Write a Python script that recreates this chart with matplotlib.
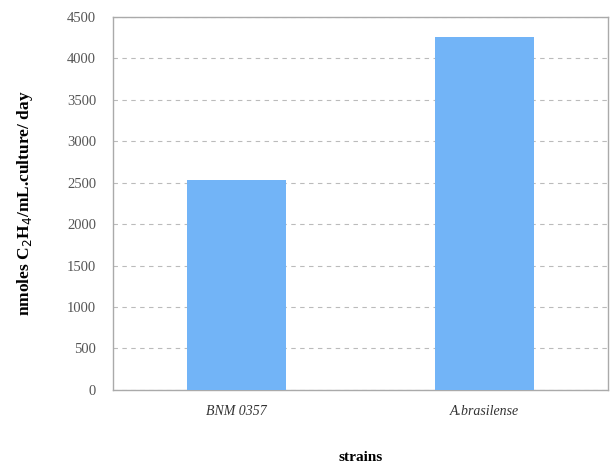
import numpy as np
import matplotlib
matplotlib.use("Agg")
import matplotlib.pyplot as plt

strains = ["BNM 0357", "A.brasilense"]
activity = [2530, 4260]
yticks = [0, 500, 1000, 1500, 2000, 2500, 3000, 3500, 4000, 4500]

plt.rcParams['font.family'] = ['Liberation Serif', 'DejaVu Serif']

fig = plt.figure(figsize=(6.1, 4.68), dpi=100)
ax = fig.add_axes([0.185, 0.167, 0.812, 0.797])

x = np.arange(len(strains))
ax.bar(x, activity, width=0.4, color='#72b4f7', zorder=3)

ax.set_xlim(-0.5, 1.5)
ax.set_ylim(0, 4500)
ax.set_yticks(yticks)
ax.set_yticklabels([str(v) for v in yticks], fontsize=10.5, color='#555555')
ax.set_xticks(x)
ax.set_xticklabels(strains, fontsize=10, style='italic', color='#333333')
ax.tick_params(axis='y', length=0, pad=12)
ax.tick_params(axis='x', length=0, pad=11)

ax.grid(axis='y', linestyle=(0, (4, 4)), color='#bbbbbb', linewidth=0.8, zorder=0)
for s in ax.spines.values():
    s.set_color('#aaaaaa')
    s.set_linewidth(1.0)

ax.set_xlabel("strains", fontsize=11, fontweight='bold', labelpad=24)
ax.set_ylabel("nmoles C$_2$H$_4$/mL.culture/ day", fontsize=12.5, fontweight='bold', labelpad=23)

fig.savefig("out.png", dpi=100)
